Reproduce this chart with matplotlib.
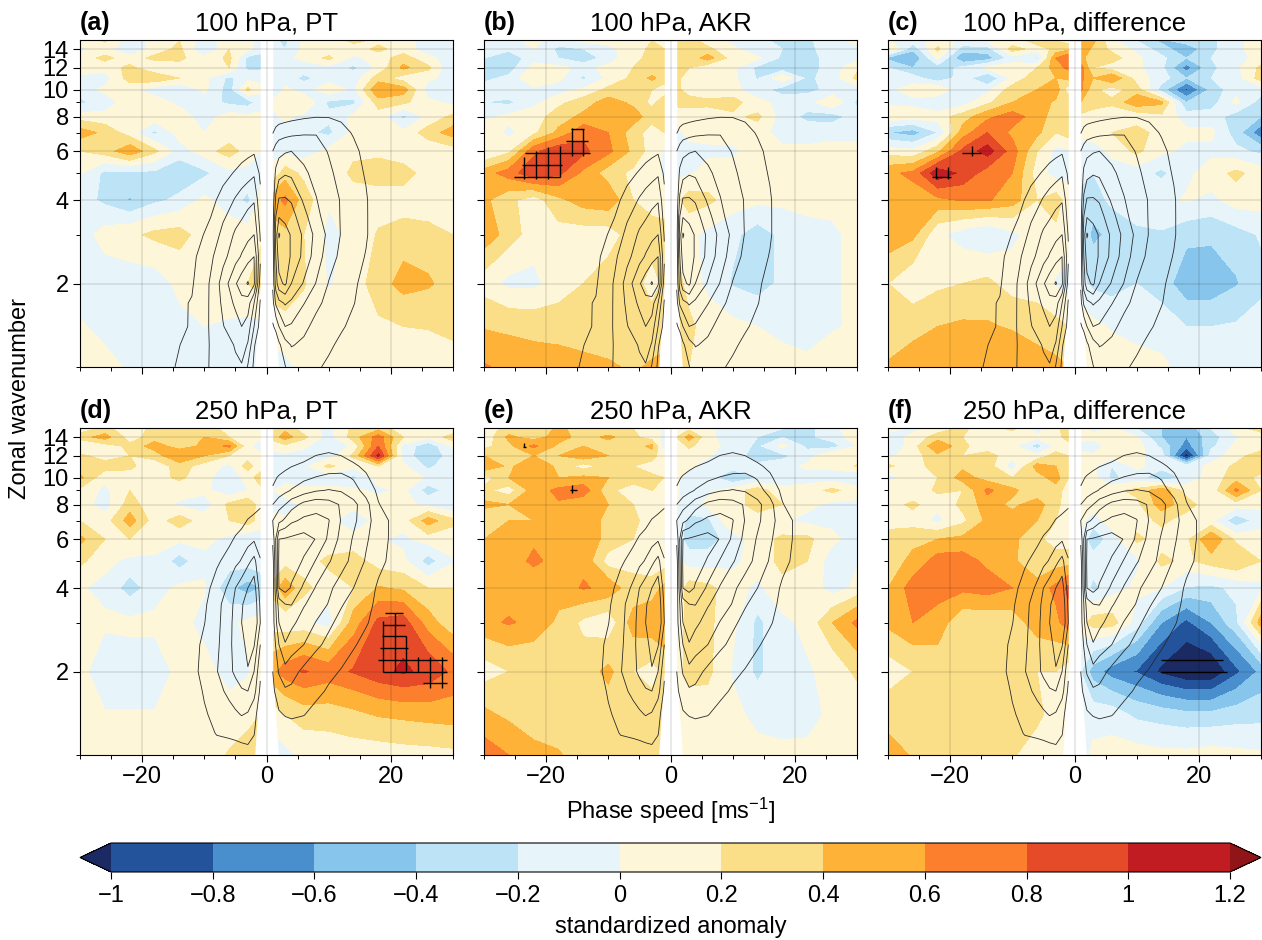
import numpy as np
import matplotlib
matplotlib.use("Agg")
import matplotlib.pyplot as plt
from matplotlib.colors import ListedColormap, BoundaryNorm
from matplotlib.ticker import FixedLocator, NullFormatter, FixedFormatter

plt.rcParams['font.family'] = ['Liberation Sans', 'DejaVu Sans']
plt.rcParams['mathtext.fontset'] = 'custom'
plt.rcParams['mathtext.rm'] = 'Liberation Sans'
plt.rcParams['mathtext.default'] = 'regular'

# ------------------------------------------------------------------ data
phase_speed = [-30, -26, -22, -18, -14, -10, -6, -3, -1, 1, 3, 6, 10, 14, 18, 22, 26, 30]
wavenumber = [15, 14, 13, 12, 11, 10, 9, 8, 7, 6, 5, 4, 3, 2, 1.4, 1]

pt_100 = [
 [.05,.22,-.1,.05,.2,-.1,.1,.05,-.05,-.15,-.25,.05,.05,.25,.15,.1,-.1,-.05],
 [-.05,.1,-.22,.1,.25,-.22,.2,.05,-.1,-.1,-.2,.05,.05,.1,.25,.1,-.1,-.05],
 [.1,.25,.1,.25,.25,.05,.25,-.25,-.3,-.05,-.05,.05,.25,-.05,.1,.3,.05,-.1],
 [.2,.1,.25,.05,.1,.05,.2,-.25,-.25,-.05,-.05,-.1,-.05,-.25,.05,.45,.25,-.2],
 [-.1,-.1,.3,.35,.2,.05,-.25,-.05,-.05,-.05,-.1,-.25,-.1,-.1,.3,.1,.05,-.1],
 [-.1,.05,.05,-.1,-.2,.05,-.3,.25,.05,-.25,.05,-.1,.15,-.05,.6,.5,-.1,-.1],
 [-.25,-.1,.1,.1,-.05,-.1,-.25,-.3,-.1,.05,.1,.2,-.25,-.25,.3,.25,.05,-.05],
 [.1,.05,.1,.15,.1,-.1,.1,.05,.05,-.05,.05,-.05,-.15,.05,.1,-.25,.05,.25],
 [.5,.35,.1,-.25,.1,0,.05,.1,.05,-.1,-.1,-.15,-.25,.05,.05,.05,.3,.5],
 [.2,.3,.55,.25,-.1,.1,.3,.1,0,-.05,-.05,-.1,.05,.15,.15,.05,.05,.1],
 [.02,-.25,-.25,-.25,-.35,-.25,-.05,-.05,-.05,.05,.3,.15,.05,.25,.3,.3,.1,.05],
 [-.1,-.25,-.42,-.25,-.15,.05,-.1,-.25,.05,.5,.65,.3,.02,.1,.1,.1,.1,.1],
 [-.1,.08,.15,.25,.28,.1,.1,.1,.15,.3,.35,.2,-.05,.05,.22,.28,.25,.2],
 [-.1,-.1,-.1,-.1,.05,.1,.15,.2,.3,.3,.3,.22,-.02,.1,.3,.48,.43,.3],
 [.02,-.05,-.1,-.1,-.05,0,-.03,-.05,-.05,.1,.15,.1,.1,.1,.17,.2,.21,.25],
 [.1,.05,-.02,-.1,-.1,-.1,-.1,-.1,-.1,-.1,-.05,.05,.1,.1,.1,.1,.1,.12],
]
akr_100 = [
 [-.05,-.05,.05,-.1,.05,.05,.1,.2,.1,.3,.3,.1,-.05,-.15,-.25,-.25,-.05,.05],
 [-.05,-.15,0,-.25,-.2,-.05,.1,.25,.2,.35,.3,.25,.05,-.15,-.2,-.25,-.1,-.05],
 [-.2,-.38,-.05,-.2,-.35,-.1,.15,.25,.4,.3,.25,.5,.1,.05,-.25,-.3,-.1,-.05],
 [-.25,-.3,.05,.05,-.05,.05,.2,.25,.25,.35,.2,.05,.05,-.25,-.35,-.3,-.1,.15],
 [-.25,-.15,.2,.05,-.25,.05,.25,.45,.3,.25,.1,.05,.05,-.22,.15,-.25,-.1,.25],
 [-.1,-.05,-.05,-.1,.05,.25,.35,.2,.1,.25,.1,.05,.05,-.1,-.3,-.25,-.15,-.1],
 [-.2,-.25,-.05,.15,.3,.5,.35,.15,.3,.25,.3,.25,.3,.05,-.05,-.1,.2,-.25],
 [-.05,.05,.1,.3,.45,.55,.5,.3,.25,.1,.05,.1,.15,.25,-.1,-.25,-.3,-.1],
 [.15,-.05,.15,.45,.75,.6,.3,.1,.2,-.05,.05,.05,.05,.1,-.1,-.1,-.05,-.05],
 [-.05,.15,.75,.95,.85,.65,.35,.1,-.02,-.05,-.05,-.03,-.02,.05,.05,.05,.05,.05],
 [.5,.7,.95,.85,.55,.3,.15,.05,-.02,-.05,-.02,.05,.05,.05,.05,.05,.1,.05],
 [.45,.25,.1,.35,.5,.55,.2,.05,.05,.15,.3,.25,.1,.05,.05,.05,.05,.05],
 [.55,.3,.1,.12,.1,.1,.3,.35,.3,.15,.05,-.05,-.15,-.3,-.15,-.05,-.03,.05],
 [.1,-.05,-.05,.1,.2,.3,.3,.1,.25,.3,.1,-.05,-.22,-.3,-.15,-.15,-.05,.08],
 [.38,.35,.33,.3,.3,.3,.3,.3,.3,.3,.25,.1,.05,0,-.08,-.1,-.02,.03],
 [.62,.55,.5,.5,.45,.42,.38,.42,.45,.3,.2,.1,.1,.1,.1,.05,.1,.1],
]
diff_100 = [
 [.02,-.1,.1,-.05,.05,.05,.3,.2,.1,.45,.45,.05,-.2,-.45,-.3,-.25,-.05,.1],
 [.25,-.35,.25,-.3,-.3,.3,.1,.25,.35,.55,.35,.15,-.05,-.3,-.55,-.25,-.05,.1],
 [-.45,-.6,.05,-.6,-.5,-.1,-.25,.6,.8,.45,.3,.3,.05,-.15,-.4,-.2,-.05,.05],
 [-.2,-.4,-.3,-.15,.05,.1,.2,.5,.65,.7,.2,.1,.05,-.15,-.7,-.25,-.05,.25],
 [-.1,-.1,-.35,-.1,-.4,.05,.35,.4,.45,.65,.4,.6,.1,-.1,-.4,-.2,-.1,.3],
 [-.05,.1,.2,-.2,-.05,.3,.4,.55,.05,.65,.25,.1,.3,-.3,-.85,-.35,-.05,-.1],
 [-.05,-.05,-.2,-.1,.15,.4,.55,.35,.4,.4,.3,.25,.55,.45,-.4,-.3,.05,-.3],
 [.15,.1,.1,.3,.55,.7,.5,.3,.35,.15,.1,.05,.05,.15,-.1,-.1,-.3,-.4],
 [-.4,-.5,-.2,.5,.8,.55,.45,.2,.3,.05,.1,.2,.3,.1,.05,.05,-.3,-.75],
 [.1,.05,.35,.85,1.1,.7,.2,-.05,-.05,-.05,-.1,.05,.25,.05,-.05,-.05,-.15,-.25],
 [.55,.65,1.15,.95,.7,.6,.1,-.1,-.05,-.1,-.2,-.1,-.1,-.25,-.05,.1,.25,.1],
 [.5,.5,.55,.62,.62,.5,.2,.3,.1,-.3,-.3,-.15,-.05,-.05,.02,-.05,.1,.1],
 [.55,.45,.05,-.1,-.2,-.05,.1,.15,.15,-.25,-.45,-.35,-.25,-.22,-.33,-.35,-.28,-.18],
 [.2,.05,.15,.2,.25,.1,.1,-.02,-.1,-.15,-.25,-.3,-.2,-.28,-.55,-.55,-.42,-.25],
 [.28,.33,.4,.43,.42,.38,.3,.25,.2,.12,.05,-.02,-.1,-.12,-.2,-.2,-.18,-.13],
 [.42,.5,.55,.55,.55,.55,.5,.45,.4,.2,.15,.1,.1,.05,-.1,-.1,-.1,-.1],
]
pt_250 = [
 [.1,.25,.1,.25,.25,.35,.1,.05,.05,.25,.35,.1,-.05,.25,.35,.05,.05,.05],
 [.3,.5,.1,.3,.25,.4,.2,.05,.05,.3,.5,.25,-.1,.3,.7,.2,.05,.3],
 [-.05,.1,.25,.5,.3,.45,.65,.05,-.1,.05,.15,.05,-.2,.05,.8,-.05,-.35,.05],
 [.25,.1,.2,.3,.6,.4,.2,.1,.05,-.05,-.05,-.1,-.1,.25,1.05,-.1,-.35,-.1],
 [.3,.3,.25,.05,.3,.1,-.05,.3,.05,-.05,-.1,-.05,.25,.05,.2,.05,-.25,-.05],
 [.45,.05,.1,.1,.25,.05,-.1,.05,.35,0,-.05,-.15,-.1,-.25,.1,.2,-.05,-.15],
 [.15,-.05,.2,.05,.05,.05,-.15,0,.1,0,.05,.05,.05,.05,-.05,.05,-.3,-.1],
 [.1,-.1,.3,.05,-.02,-.1,.25,.35,.1,-.05,-.05,.02,.05,.05,.1,.05,-.05,-.2],
 [.2,.1,.5,.1,.3,.1,.2,.3,.1,.05,.02,.05,.05,-.1,.05,.1,.5,.25],
 [.45,.2,.2,.05,.05,.05,-.05,-.15,-.1,.02,.02,.02,.05,.05,.02,-.05,.1,.1],
 [.25,.05,-.05,-.02,-.3,-.05,-.1,-.1,-.05,.05,.1,.1,.25,.3,.1,.05,-.3,-.02],
 [.02,-.05,-.3,-.1,.05,.02,-.35,-.5,-.4,.25,.55,.25,.1,.2,.42,.36,.2,.2],
 [.05,.03,.05,.05,.05,-.05,-.05,.05,.1,.1,.05,.05,-.1,.5,.85,.9,.5,.25],
 [.05,-.1,-.1,-.1,.05,.05,-.05,-.02,.1,.55,.7,.82,.72,.82,.95,1.03,.95,.75],
 [.1,.01,.01,.01,.05,.05,.05,.12,.2,.1,.2,.3,.3,.35,.42,.45,.48,.5],
 [.1,.1,.1,.1,.1,.08,.22,.3,.35,-.1,-.05,.05,.08,.1,.1,.12,.13,.15],
]
akr_250 = [
 [.05,.3,.2,.45,.3,.25,.2,.05,-.02,.1,.15,.02,-.05,-.05,-.2,-.25,-.1,.2],
 [.05,.45,.3,.5,.3,.45,.25,.1,-.05,.2,.5,.05,-.1,-.2,-.2,-.25,-.1,.1],
 [.12,.35,.65,.35,.4,.3,.3,.45,-.1,.05,.25,.05,-.05,-.25,.05,-.25,-.3,0],
 [.4,.35,.4,.4,.55,.4,.3,.3,.05,.05,.05,.02,-.1,-.3,-.25,-.1,.2,.05],
 [.58,.35,.58,.35,.1,.3,.2,.1,.2,.05,.02,-.05,-.1,-.15,-.1,.05,.05,.22],
 [.1,.4,.45,.4,.45,.4,.3,.25,.2,.02,-.05,-.1,-.4,-.2,-.1,-.1,-.1,-.2],
 [.25,.1,.5,.65,.72,.25,.1,.2,.15,.02,-.1,-.05,.1,.3,.05,.1,.25,.1],
 [.45,.4,.5,.58,.45,.4,.2,.05,.02,.02,-.1,.05,.1,.3,.2,.05,-.05,-.05],
 [.25,.4,.4,.5,.5,.35,.25,.1,.05,-.1,-.25,-.25,.2,.1,.02,-.05,-.05,-.05],
 [.4,.45,.55,.5,.5,.35,.2,.1,-.02,-.1,-.3,-.3,-.1,.1,.25,.25,.05,-.1],
 [.45,.45,.66,.5,.55,.1,.15,.05,.1,.02,-.1,-.1,-.05,.1,.25,.2,-.1,-.02],
 [.5,.5,.4,.5,.62,.55,.25,.3,.45,.05,.3,.25,.1,-.05,.15,.15,-.1,.05],
 [.55,.62,.55,.35,.15,.05,.5,.55,.6,.05,.3,.25,.05,-.25,-.05,.05,.4,.65],
 [.1,.2,.2,.25,.3,.45,.2,.12,.25,.15,.25,.25,-.02,-.25,-.05,-.02,.05,.25],
 [.45,.35,.3,.25,.25,.3,.3,.3,.3,.05,.12,.1,.05,-.05,-.1,-.08,.05,.05],
 [.7,.6,.45,.42,.3,.3,.3,.3,.3,.1,.05,.05,.05,.05,.05,.05,.05,.1],
]
diff_250 = [
 [.1,-.05,.1,.25,.05,.25,-.1,.15,.3,.05,-.05,.05,-.2,-.4,-.55,-.2,.1,.3],
 [-.1,.05,.3,.2,.1,.05,.05,.1,.3,.05,.05,.1,.02,-.4,-.6,-.3,-.02,.05],
 [-.2,.1,.6,.25,.05,.05,-.3,.05,.1,-.05,-.1,.1,.1,-.25,-.7,-.25,.05,.05],
 [-.05,.1,.35,.2,.3,.05,.05,.3,.2,.05,.02,.1,.05,-.1,-1.1,-.1,.1,.35],
 [.25,.05,.35,.35,.3,-.1,.5,.4,.25,.1,.05,-.2,.05,-.1,-.1,.05,.25,.3],
 [-.1,.1,.2,.5,.3,.2,.3,.5,.2,.02,.05,-.25,-.1,-.4,-.15,.1,.3,.15],
 [.2,.02,.25,.2,.65,.45,.25,.3,.1,.05,.1,.15,.25,.55,.1,.05,.65,.2],
 [.1,.25,.05,.25,.5,.35,.5,.25,.1,.1,.1,.15,.15,.5,.3,.05,.1,.05],
 [.1,.1,-.05,.15,.45,.5,.4,.2,.1,.05,-.1,.1,.1,.25,.1,.05,-.35,-.1],
 [.3,.35,.4,.45,.5,.45,.25,.1,.1,-.05,-.35,-.1,.25,.1,.15,.6,.15,.1],
 [.3,.45,.7,.7,.55,.45,.2,.3,.3,-.05,-.1,-.05,-.05,.25,.15,.3,.4,.2],
 [.4,.7,.7,.65,.7,.6,.5,.65,.85,-.05,-.25,-.1,.05,0,-.22,-.25,-.15,-.05],
 [.45,.6,.5,.25,.25,.3,.5,.55,.7,.1,.3,.3,-.1,-.6,-.85,-.6,-.25,.5],
 [.1,.2,.3,.3,.3,.3,.2,.2,.1,-.2,-.5,-.7,-.82,-1.05,-1.2,-1.2,-.85,-.55],
 [.3,.3,.3,.3,.3,.25,.25,.1,.05,-.05,-.1,-.1,-.25,-.3,-.35,-.35,-.3,-.28],
 [.5,.38,.28,.28,.25,.22,.1,.05,.05,-.1,.05,.08,.08,.05,.05,.08,.05,.03],
]

# climatology contours, west (c<0) and east (c>0) of the gap
clim_levels = [1, 2, 3, 4, 5, 6, 7]

c100_w_x = [-18, -15, -12, -9, -7, -5, -4, -3, -2, -1]
c100_w_y = [1, 1.2, 1.4, 1.7, 2, 2.5, 3, 4, 5, 6, 7]
c100_w = [
 [.3,.95,1.5,2.05,2.4,2.8,2.9,1.9,.8,.1],
 [.4,.8,1.35,2.05,2.4,3.1,3.5,2.9,1.1,.3],
 [.5,.65,1.1,2.1,2.95,3.6,4.0,3.6,2.0,.6],
 [.7,.8,1.05,2.1,3.2,4.2,4.7,4.5,3.0,.9],
 [.8,.88,.9,2.1,3.4,4.9,5.5,6.1,5.2,1.5],
 [.4,.5,.75,1.8,2.7,3.6,4.1,4.6,5.0,2.2],
 [.2,.3,.6,1.25,2.3,3.15,3.4,3.7,4.0,1.9],
 [.1,.15,.3,.7,1.35,2.1,2.4,2.7,2.9,1.25],
 [0,.05,.1,.3,.65,1.1,1.4,1.6,1.85,.8],
 [0,0,.05,.1,.2,.35,.5,.7,.85,.5],
 [0,0,0,.02,.05,.1,.15,.2,.25,.15],
]
c100_e_x = [1, 1.5, 2, 3, 4, 6, 8, 10, 12, 14, 16, 18]
c100_e_y = [1, 1.2, 1.4, 1.7, 2, 2.5, 3, 3.5, 4, 5, 6, 7, 8, 9]
c100_e = [
 [.2,.4,.6,.95,1.5,1.4,1.15,.8,.4,.2,.05,0],
 [.3,.5,.8,1.6,2.05,1.85,1.5,1.2,.75,.35,.1,0],
 [.9,1.2,2.0,3.0,2.9,2.2,1.75,1.45,1.15,.7,.3,.05],
 [1.6,3.2,3.7,4.1,3.8,3.05,2.2,1.75,1.4,1.05,.5,.1],
 [2.2,4.5,5.7,6.2,5.0,3.9,2.95,1.95,1.6,1.2,.6,.15],
 [2.4,5.0,6.5,6.4,5.9,4.7,3.5,2.5,1.75,1.35,.95,.3],
 [2.5,5.5,7.1,6.4,5.9,4.8,3.7,2.75,1.95,1.5,1.1,.4],
 [2.4,5.0,5.9,5.7,5.4,4.3,3.3,2.45,1.95,1.55,1.1,.4],
 [2.3,4.2,5.1,5.1,4.9,3.85,3.05,2.35,1.95,1.55,1.1,.35],
 [2.2,3.2,3.6,3.9,3.8,3.2,2.65,2.15,1.75,1.4,.9,.25],
 [2.0,2.4,2.7,2.9,3.0,2.65,2.3,1.95,1.6,1.25,.7,.1],
 [.95,1.3,1.5,1.65,1.75,1.9,1.95,1.7,1.35,.9,.4,.05],
 [.3,.4,.5,.6,.7,.85,.95,.95,.8,.5,.2,0],
 [.05,.1,.1,.15,.2,.3,.35,.35,.3,.15,.05,0],
]
c250_w_x = [-14, -12, -10, -8, -6, -5, -4, -3, -2, -1]
c250_w_y = [1, 1.2, 1.4, 1.7, 2, 2.5, 3, 3.5, 4, 5, 6, 7, 8, 9]
c250_w = [
 [0,0,.1,.2,.3,.45,.6,.75,.6,.1],
 [0,.1,.4,1.1,1.25,1.3,1.35,1.3,1.05,.3],
 [.05,.3,.9,1.25,1.6,1.85,2.05,1.9,1.3,.5],
 [.1,.5,1.1,1.6,2.3,2.6,2.9,3.0,2.4,.8],
 [.2,.7,1.3,1.95,2.75,3.2,3.6,3.95,3.0,1.2],
 [.2,.65,1.2,1.8,2.8,3.3,3.75,4.25,4.1,2.0],
 [.15,.55,.97,1.7,2.75,3.3,4.0,4.5,5.0,3.0],
 [.1,.45,.85,1.6,2.7,3.2,3.9,4.4,4.9,2.8],
 [.05,.35,.7,1.35,2.2,3.0,3.5,4.0,4.5,2.5],
 [0,.1,.35,.85,1.35,1.7,2.1,2.75,3.3,2.1],
 [0,.05,.15,.4,.8,1.1,1.3,1.55,1.85,1.3],
 [0,0,.05,.15,.4,.55,.75,1.05,1.2,1.15],
 [0,0,0,.05,.1,.2,.3,.5,.7,.95],
 [0,0,0,0,0,.05,.1,.2,.3,.4],
]
c250_e_x = [1, 2, 3, 4, 6, 8, 10, 12, 14, 16, 18, 20, 22]
c250_e_y = [1, 1.2, 1.4, 1.7, 2, 2.5, 3, 3.5, 4, 5, 6, 7, 8, 9, 10, 11, 12, 13]
c250_e = [
 [.1,.2,.3,.3,.25,.2,.15,.1,.05,0,0,0,0],
 [.2,.4,.6,.7,.6,.5,.3,.2,.1,0,0,0,0],
 [.4,.9,1.05,1.1,1.03,.75,.5,.3,.1,0,0,0,0],
 [.8,1.5,1.85,1.8,1.5,1.2,.9,.6,.3,.1,0,0,0],
 [1.0,2.1,2.7,2.4,1.75,1.4,1.2,.95,.6,.3,.1,0,0],
 [1.2,3.0,3.9,3.5,3.0,2.2,1.75,1.45,1.1,.7,.3,.05,0],
 [1.5,4.0,4.9,4.25,3.55,2.95,2.2,1.7,1.4,1.1,.6,.2,0],
 [1.5,4.5,5.0,5.05,4.1,3.5,2.95,2.1,1.6,1.25,.8,.3,0],
 [1.3,6.0,6.4,5.9,4.8,3.9,3.2,2.6,2.0,1.5,.85,.35,.05],
 [1.5,6.2,6.6,6.5,5.9,4.9,4.1,3.4,2.7,1.9,1.3,.8,.2],
 [2.2,6.0,6.1,6.2,6.4,5.95,4.8,3.7,2.9,2.15,1.4,.9,.3],
 [3.0,3.7,4.2,4.8,5.2,5.3,5.05,3.95,3.2,2.4,1.45,.9,.3],
 [2.0,2.6,3.0,3.55,4.3,4.6,4.4,3.9,3.3,2.35,1.05,.6,.2],
 [1.1,1.4,1.75,2.05,2.5,2.9,3.05,2.9,2.4,1.6,.8,.3,.05],
 [.8,1.1,1.3,1.5,1.8,2.05,2.2,2.3,1.9,1.15,.5,.1,0],
 [.4,.6,.8,.97,1.2,1.4,1.6,1.5,1.15,.8,.2,0,0],
 [.1,.2,.3,.4,.7,1.02,1.2,1.0,.7,.3,.05,0,0],
 [0,.05,.1,.15,.25,.4,.55,.5,.3,.1,0,0,0],
]

# significance hatching, read as segments: (wavenumber, c_start, c_end) and (c, wn_start, wn_end)
hatch_h = {
 'a': [],
 'b': [(4.86,-25.1,-17.8),(5.35,-23.9,-17.4),(5.9,-23.35,-12.9),(6.53,-16.75,-13.3),(7.22,-16.05,-13.95)],
 'c': [(4.86,-23,-19.9),(5.9,-18.1,-15)],
 'd': [(3.25,19.05,21.9),(2.95,18.8,22.2),(2.68,18.5,22.5),(2.43,18.25,22.8),(2.2,18,29),(2.0,18.8,29.1),(1.815,25.2,29)],
 'e': [(12.9,-23.8,-23.2),(9.06,-16.2,-15.1)],
 'f': [(2.2,13.9,23.9),(2.0,13.9,24.5)],
}
hatch_v = {
 'a': [],
 'b': [(-23.56,4.76,5.7),(-21.6,4.76,6.03),(-19.7,4.76,6.23),(-17.8,4.86,6.28),(-15.9,5.78,7.25),(-14.06,5.78,7.22)],
 'c': [(-22.2,4.78,5.25),(-20.3,4.78,5.25),(-16.5,5.78,6.28)],
 'd': [(18.8,2.0,3.03),(20.67,2.0,3.25),(22.5,2.0,2.68),(24.4,2.0,2.25),(26.3,1.75,2.25),(28.2,1.75,2.25)],
 'e': [(-23.5,12.9,13.36),(-15.9,8.8,9.4)],
 'f': [],
}

# white gap around zero phase speed
gap_wn = [1, 2, 15]
gap_west = [-1.9, -1, -1]
gap_east = [1.9, 1, 1]

panel_tags = ['a', 'b', 'c', 'd', 'e', 'f']
panel_titles = ['100 hPa, PT', '100 hPa, AKR', '100 hPa, difference',
                '250 hPa, PT', '250 hPa, AKR', '250 hPa, difference']
panel_fields = [pt_100, akr_100, diff_100, pt_250, akr_250, diff_250]

levels = [-1, -.8, -.6, -.4, -.2, 0, .2, .4, .6, .8, 1, 1.2]
level_labels = ['\u22121', '\u22120.8', '\u22120.6', '\u22120.4', '\u22120.2', '0',
                '0.2', '0.4', '0.6', '0.8', '1', '1.2']
colors = ['#23539b', '#4a8fcd', '#87c5ec', '#bde3f7', '#e7f5fb', '#fef6d8',
          '#fbdf88', '#feb338', '#fb7f2c', '#e54b28', '#c01c22']
color_under = '#1b2a63'
color_over = '#8f1518'

# ------------------------------------------------------------------ figure
W, H = 1262, 940
fig = plt.figure(figsize=(W / 100, H / 100), dpi=100)
cmap = ListedColormap(colors)
cmap.set_under(color_under)
cmap.set_over(color_over)
norm = BoundaryNorm(levels, len(colors))

FS = 17
TFS = 18.5
lefts = [80, 484, 888]
tops = [40, 428]
aw, ah = 373, 327
wn_asc = np.array(wavenumber)[::-1]

cf = None
for i in range(6):
    r, c = divmod(i, 3)
    ax = fig.add_axes([lefts[c] / W, 1 - (tops[r] + ah) / H, aw / W, ah / H])
    z = np.array(panel_fields[i], dtype=float)[::-1]
    cf = ax.contourf(phase_speed, wn_asc, z, levels=levels, cmap=cmap, norm=norm,
                     extend='both', zorder=1)
    ax.fill_betweenx(gap_wn, gap_west, gap_east, color='white', lw=0, zorder=2)
    if r == 0:
        sets = [(c100_w_x, c100_w_y, c100_w), (c100_e_x, c100_e_y, c100_e)]
    else:
        sets = [(c250_w_x, c250_w_y, c250_w), (c250_e_x, c250_e_y, c250_e)]
    for xs, ys, zs in sets:
        ax.contour(xs, ys, np.array(zs), levels=clim_levels, colors='#2a2a2a',
                   linewidths=0.6, zorder=3)
    tag = panel_tags[i]
    for wn, a, b in hatch_h[tag]:
        ax.hlines(wn, a, b, color='black', lw=1.0, zorder=4)
    for cs, a, b in hatch_v[tag]:
        ax.vlines(cs, a, b, color='black', lw=1.0, zorder=4)

    ax.set_yscale('log')
    ax.set_xlim(-30, 30)
    ax.set_ylim(1, 15.1)
    ax.xaxis.set_major_locator(FixedLocator([-20, 0, 20]))
    ax.xaxis.set_minor_locator(FixedLocator([-30, -25, -15, -10, -5, 5, 10, 15, 25, 30]))
    ax.yaxis.set_major_locator(FixedLocator([2, 4, 6, 8, 10, 12, 14]))
    ax.yaxis.set_minor_locator(FixedLocator([1, 3, 5, 7, 9]))
    ax.yaxis.set_minor_formatter(NullFormatter())
    ax.xaxis.set_minor_formatter(NullFormatter())
    ax.xaxis.set_major_formatter(FixedFormatter(['\u221220', '0', '20']))
    ax.yaxis.set_major_formatter(FixedFormatter(['2', '4', '6', '8', '10', '12', '14']))
    ax.tick_params(which='major', length=5, width=0.8, labelsize=FS, pad=3)
    ax.tick_params(which='minor', length=2.8, width=0.7)
    ax.tick_params(axis='x', labelbottom=(r == 1))
    ax.tick_params(axis='y', labelleft=(c == 0))
    ax.grid(True, which='major', color='black', alpha=0.1, lw=1.2, zorder=5)
    ax.set_axisbelow(False)
    for s in ax.spines.values():
        s.set_linewidth(0.8)
        s.set_zorder(10)
    ax.set_title(panel_titles[i], fontsize=TFS, pad=7)
    ax.set_title('(%s)' % tag, loc='left', fontsize=TFS - 0.5, fontweight='bold', pad=7)

fig.text(20 / W, 1 - 399 / H, 'Zonal wavenumber', rotation=90, ha='center', va='center', fontsize=FS)
fig.text(671 / W, 1 - 811 / H, 'Phase speed [ms$^{\u22121}$]', ha='center', va='center', fontsize=FS)

cax = fig.add_axes([80 / W, 1 - 872 / H, 1181 / W, 29 / H])
cb = fig.colorbar(cf, cax=cax, orientation='horizontal', extendfrac=31 / 1118,
                  ticks=levels, spacing='uniform')
cb.set_ticklabels(level_labels)
cb.minorticks_off()
cb.ax.tick_params(length=5, width=0.8, labelsize=FS, pad=4)
cb.outline.set_linewidth(0.8)
cb.set_label('standardized anomaly', fontsize=FS, labelpad=7)

fig.savefig('out.png', dpi=100)
